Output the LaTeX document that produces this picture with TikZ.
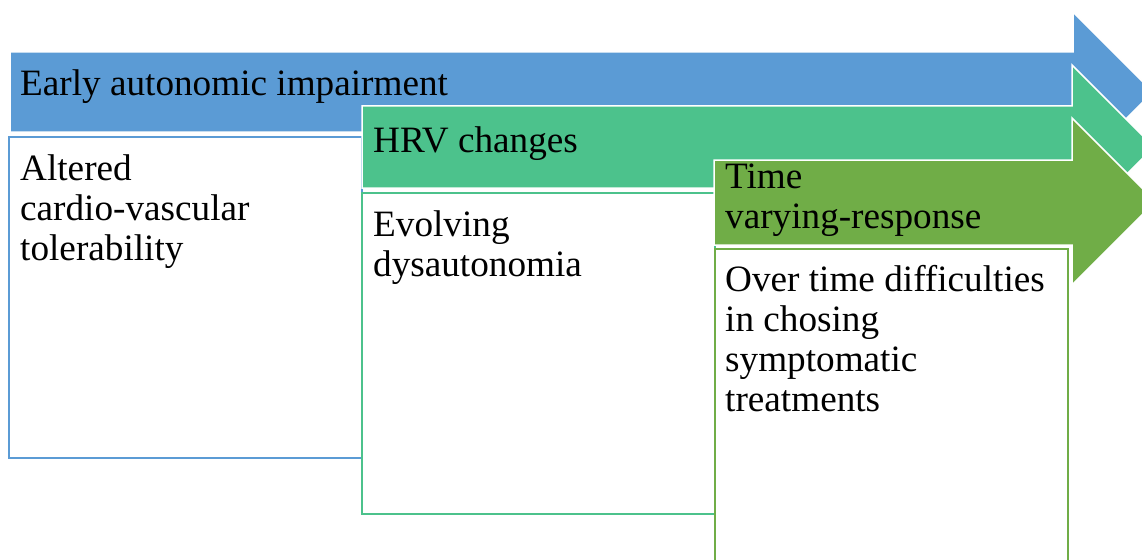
\documentclass[tikz,border=0pt]{standalone}
\usepackage{fontspec}
\setmainfont{Liberation Serif}
\definecolor{cblue}{HTML}{5B9BD5}
\definecolor{cgreen}{HTML}{4CC28C}
\definecolor{colive}{HTML}{70AD47}
\begin{document}
\begin{tikzpicture}[x=1pt,y=-1pt,
  arrowshape/.style={draw=white,line width=1.5pt,line join=miter},
  boxshape/.style={fill=white,line width=2pt},
  lbl/.style={anchor=base west,inner sep=0pt,align=left,font=\fontsize{37.2}{40}\selectfont}]
\useasboundingbox (0,0) rectangle (1142,559);
\clip (0,0) rectangle (1142,559);
% blue
\path[arrowshape,fill=cblue] (10,52) -- (1073,52) -- (1073,12) -- (1153,92) -- (1073,172) -- (1073,132) -- (10,132) -- cycle;
\draw[boxshape,draw=cblue] (9,137) rectangle (362,458);
% green
\path[arrowshape,fill=cgreen] (362,106) -- (1072,106) -- (1072,65) -- (1154,147) -- (1072,229) -- (1072,188) -- (362,188) -- cycle;
\draw[boxshape,draw=cgreen] (362,193) rectangle (715,514);
% olive
\path[arrowshape,fill=colive] (714,160) -- (1072,160) -- (1072,118) -- (1155.5,201.5) -- (1072,285) -- (1072,245) -- (714,245) -- cycle;
\draw[boxshape,draw=colive] (715,249) rectangle (1068,575);
% labels (base anchor = baseline of the last line)
\node[lbl] (t1) at (20,96) {Early autonomic impairment};
\node[lbl] (b1) at (20,260) {Altered\\cardio-vascular\\tolerability};
\node[lbl] (t2) at (373,152) {HRV changes};
\node[lbl] (b2) at (373,276) {Evolving\\dysautonomia};
\node[lbl] (t3) at (725,228) {Time\\varying-response};
\node[lbl] (b3) at (725,411) {Over time difficulties\\in chosing\\symptomatic\\treatments};
\end{tikzpicture}
\end{document}
